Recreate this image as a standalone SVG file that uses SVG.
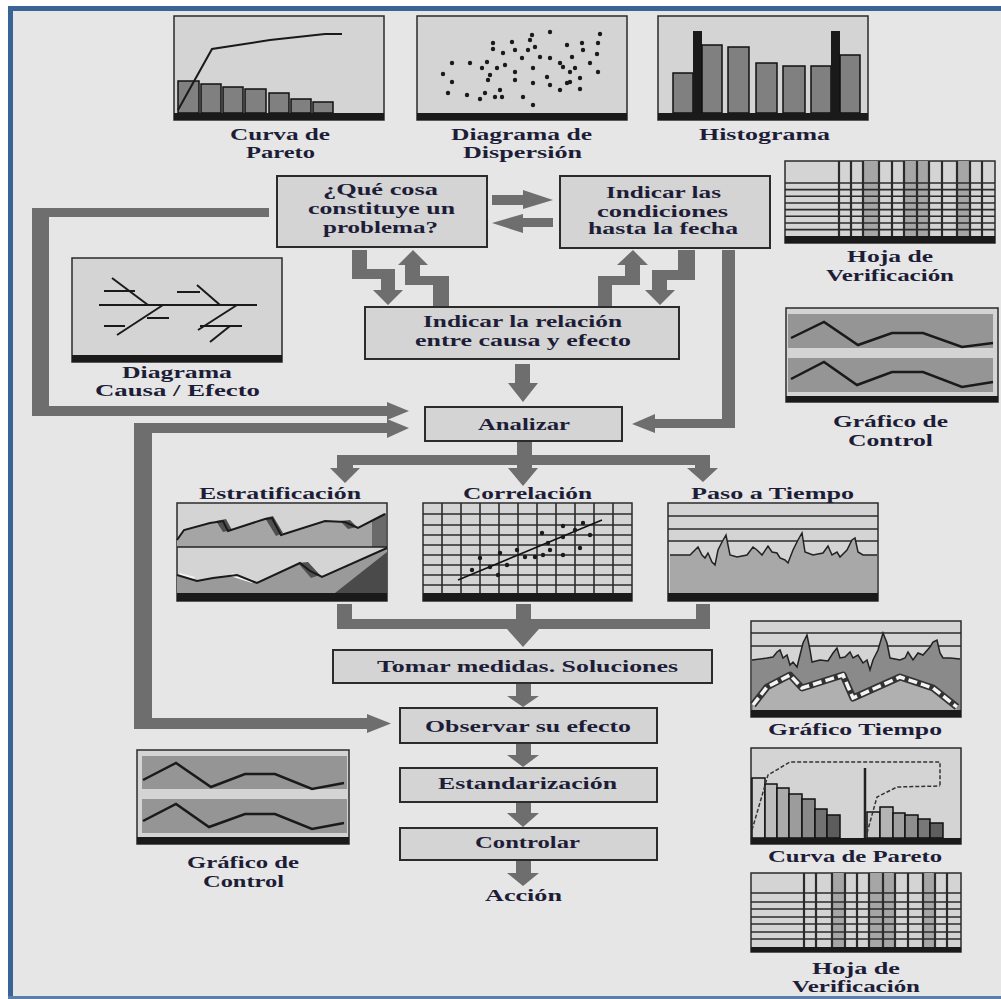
<svg xmlns="http://www.w3.org/2000/svg" width="1001" height="999" viewBox="0 0 1001 999">
<style>
.t{font-family:"Liberation Serif","Times New Roman",serif;font-weight:bold;font-size:17px;fill:#1d1d38;text-anchor:middle}
.box{fill:#d4d4d4;stroke:#2b2b2b;stroke-width:2}
.arr{fill:#6e6e6e}
.chart{fill:#d4d4d4;stroke:#2b2b2b;stroke-width:1.5}
.base{fill:#1a1a1a}
.ln{fill:none;stroke:#1a1a1a;stroke-width:2}
.gl{stroke:#2b2b2b;stroke-width:1.6}
.bar{fill:#808080;stroke:#111;stroke-width:1.5}
.band{fill:#959595}
.sh{fill:#a6a6a6}
</style>
<defs>
<circle id="dot" r="2.2" fill="#1a1a1a"/>
</defs>
<rect x="0" y="0" width="1001" height="999" fill="#ffffff"/>
<rect x="8" y="6" width="993" height="993" fill="#e6e6e6"/>
<rect x="8" y="6" width="5" height="993" fill="#3a6496"/>
<rect x="8" y="6" width="993" height="5" fill="#3a6496"/>
<rect x="8" y="996" width="993" height="3" fill="#5a7fa8"/>

<!-- connectors -->
<g id="connectors" class="arr">
<polygon points="492,195 523,195 523,190 553,200 523,209 523,205 492,205"/>
<polygon points="553,218 523,218 523,214 492,223 523,233 523,227 553,227"/>
<polygon points="352,250 367,250 367,269 395,269 395,290 403,290 388,305 373,290 381,290 381,279 352,279"/>
<polygon points="433,307 449,307 449,276 420,276 420,265 428,265 413,250 398,265 405,265 405,285 433,285"/>
<polygon points="598,307 612,307 612,285 640,285 640,265 648,265 633,250 617,265 625,265 625,276 598,276"/>
<polygon points="678,250 695,250 695,280 667,280 667,290 675,290 660,305 645,290 652,290 652,270 678,270"/>
<polygon points="515,364 530,364 530,383 538,383 523,402 508,383 515,383"/>
<polygon points="722,250 735,250 735,428 655,428 655,433 632,424 655,414 655,419 722,419"/>
<polygon points="269,208 269,217 49,217 49,406 387,406 387,402 409,411 387,420 387,416 32,416 32,208"/>
<polygon points="409,428 387,419 387,423 134,423 134,729 367,729 367,733 391,723.5 367,714 367,718 152,718 152,433 387,433 387,438"/>
<polygon points="337,455 517,455 517,441 532,441 532,455 710,455 710,468 718,468 703,482 687,468 695,468 695,465 532,465 532,468 538,468 523,486 508,468 517,468 517,465 353,465 353,468 360,468 345,483 330,468 337,468"/>
<polygon points="337,604 352,604 352,619 516,619 516,604 531,604 531,619 696,619 696,604 710,604 710,629 539,629 523,647 507,629 337,629"/>
<polygon points="516,683 531,683 531,696 539,696 523,707 507,696 516,696"/>
<polygon points="516,743 531,743 531,755 539,755 523,767 507,755 516,755"/>
<polygon points="516,802 531,802 531,813 539,813 523,827 507,813 516,813"/>
<polygon points="516,860 531,860 531,873 539,873 523,886 507,873 516,873"/>
</g>

<!-- process boxes -->
<g id="n-problema">
<rect class="box" x="277" y="176" width="210" height="71"/>
<text class="t" x="380.5" y="195" textLength="115" lengthAdjust="spacingAndGlyphs">¿Qué cosa</text>
<text class="t" x="381.5" y="214" textLength="147" lengthAdjust="spacingAndGlyphs">constituye un</text>
<text class="t" x="380.5" y="233" textLength="115" lengthAdjust="spacingAndGlyphs">problema?</text>
</g>
<g id="n-condiciones">
<rect class="box" x="560" y="176" width="210" height="72"/>
<text class="t" x="663.5" y="198" textLength="115" lengthAdjust="spacingAndGlyphs">Indicar las</text>
<text class="t" x="662.5" y="217" textLength="131" lengthAdjust="spacingAndGlyphs">condiciones</text>
<text class="t" x="663" y="234" textLength="150" lengthAdjust="spacingAndGlyphs">hasta la fecha</text>
</g>
<g id="n-relacion">
<rect class="box" x="365" y="307" width="314" height="52"/>
<text class="t" x="522.5" y="327" textLength="199" lengthAdjust="spacingAndGlyphs">Indicar la relación</text>
<text class="t" x="523" y="346" textLength="216" lengthAdjust="spacingAndGlyphs">entre causa y efecto</text>
</g>
<g id="n-analizar">
<rect class="box" x="425" y="407" width="197" height="34"/>
<text class="t" x="524" y="430" textLength="92" lengthAdjust="spacingAndGlyphs">Analizar</text>
</g>
<g id="n-tomar">
<rect class="box" x="333" y="650" width="379" height="33"/>
<text class="t" x="527.5" y="672" textLength="301" lengthAdjust="spacingAndGlyphs">Tomar medidas. Soluciones</text>
</g>
<g id="n-observar">
<rect class="box" x="400" y="708" width="257" height="35"/>
<text class="t" x="528" y="732" textLength="206" lengthAdjust="spacingAndGlyphs">Observar su efecto</text>
</g>
<g id="n-estandarizacion">
<rect class="box" x="400" y="768" width="257" height="34"/>
<text class="t" x="527.5" y="789" textLength="179" lengthAdjust="spacingAndGlyphs">Estandarización</text>
</g>
<g id="n-controlar">
<rect class="box" x="400" y="828" width="257" height="32"/>
<text class="t" x="527.5" y="848" textLength="105" lengthAdjust="spacingAndGlyphs">Controlar</text>
</g>
<g id="n-accion">
<text class="t" x="523.5" y="901" textLength="77" lengthAdjust="spacingAndGlyphs">Acción</text>
</g>

<!-- top Pareto -->
<g id="c-pareto-top">
<rect class="chart" x="174" y="16" width="210" height="104"/>
<rect class="bar" x="178" y="81" width="21" height="32"/>
<rect class="bar" x="201" y="84" width="20" height="29"/>
<rect class="bar" x="223" y="87" width="20" height="26"/>
<rect class="bar" x="245" y="89" width="21" height="24"/>
<rect class="bar" x="269" y="93" width="20" height="20"/>
<rect class="bar" x="291" y="99" width="20" height="14"/>
<rect class="bar" x="313" y="102" width="20" height="11"/>
<rect class="base" x="174" y="113" width="210" height="7"/>
<polyline class="ln" points="178,110 212,49 270,40 325,34 342,34"/>
<text class="t" x="280" y="140" textLength="100" lengthAdjust="spacingAndGlyphs">Curva de</text>
<text class="t" x="280.5" y="158" textLength="69" lengthAdjust="spacingAndGlyphs">Pareto</text>
</g>

<!-- scatter -->
<g id="c-dispersion">
<rect class="chart" x="417" y="16" width="210" height="104"/>
<rect class="base" x="417" y="113" width="210" height="7"/>
<g>
<use href="#dot" x="493" y="43"/><use href="#dot" x="493" y="49"/><use href="#dot" x="452" y="63"/><use href="#dot" x="470" y="63"/><use href="#dot" x="487" y="62"/><use href="#dot" x="482" y="68"/><use href="#dot" x="497" y="68"/><use href="#dot" x="443" y="74"/><use href="#dot" x="490" y="75"/><use href="#dot" x="452" y="82"/><use href="#dot" x="488" y="80"/><use href="#dot" x="448" y="93"/><use href="#dot" x="467" y="95"/><use href="#dot" x="485" y="93"/><use href="#dot" x="480" y="99"/><use href="#dot" x="495" y="97"/>
<use href="#dot" x="550" y="32"/><use href="#dot" x="532" y="35"/><use href="#dot" x="530" y="40"/><use href="#dot" x="512" y="42"/><use href="#dot" x="535" y="47"/><use href="#dot" x="600" y="34"/><use href="#dot" x="598" y="43"/><use href="#dot" x="582" y="43"/><use href="#dot" x="567" y="45"/><use href="#dot" x="583" y="50"/><use href="#dot" x="515" y="50"/><use href="#dot" x="528" y="50"/><use href="#dot" x="503" y="53"/><use href="#dot" x="522" y="58"/><use href="#dot" x="540" y="57"/><use href="#dot" x="550" y="58"/><use href="#dot" x="572" y="57"/><use href="#dot" x="597" y="54"/><use href="#dot" x="560" y="63"/><use href="#dot" x="590" y="63"/><use href="#dot" x="505" y="65"/><use href="#dot" x="533" y="68"/><use href="#dot" x="563" y="67"/><use href="#dot" x="575" y="68"/><use href="#dot" x="570" y="72"/><use href="#dot" x="598" y="72"/><use href="#dot" x="515" y="72"/><use href="#dot" x="547" y="77"/><use href="#dot" x="580" y="78"/><use href="#dot" x="515" y="80"/><use href="#dot" x="533" y="83"/><use href="#dot" x="550" y="85"/><use href="#dot" x="567" y="83"/><use href="#dot" x="560" y="90"/><use href="#dot" x="580" y="89"/><use href="#dot" x="570" y="82"/><use href="#dot" x="500" y="90"/><use href="#dot" x="523" y="97"/><use href="#dot" x="533" y="105"/><use href="#dot" x="502" y="97"/>
</g>
<text class="t" x="521.5" y="140" textLength="141" lengthAdjust="spacingAndGlyphs">Diagrama de</text>
<text class="t" x="522.5" y="158" textLength="119" lengthAdjust="spacingAndGlyphs">Dispersión</text>
</g>

<!-- histogram -->
<g id="c-histograma">
<rect class="chart" x="658" y="16" width="210" height="104"/>
<rect class="bar" x="673" y="73" width="20" height="40"/>
<rect x="693" y="31" width="9" height="82" fill="#1a1a1a"/>
<rect class="bar" x="702" y="45" width="20" height="68"/>
<rect class="bar" x="728" y="47" width="21" height="66"/>
<rect class="bar" x="756" y="63" width="21" height="50"/>
<rect class="bar" x="783" y="66" width="22" height="47"/>
<rect class="bar" x="811" y="66" width="20" height="47"/>
<rect x="831" y="31" width="9" height="82" fill="#1a1a1a"/>
<rect class="bar" x="840" y="55" width="20" height="58"/>
<rect class="base" x="658" y="113" width="210" height="7"/>
<text class="t" x="764.5" y="140" textLength="131" lengthAdjust="spacingAndGlyphs">Histograma</text>
</g>

<!-- Hoja de verificacion top -->
<g id="c-hoja-top">
<rect class="chart" x="785" y="161" width="210" height="82"/>
<rect class="sh" x="863" y="161" width="16" height="75"/>
<rect class="sh" x="904" y="161" width="25" height="75"/>
<rect class="sh" x="957" y="161" width="13" height="75"/>
<g class="gl">
<line x1="785" y1="183" x2="995" y2="183"/><line x1="785" y1="189.6" x2="995" y2="189.6"/><line x1="785" y1="196.3" x2="995" y2="196.3"/><line x1="785" y1="203" x2="995" y2="203"/><line x1="785" y1="209.6" x2="995" y2="209.6"/><line x1="785" y1="216.3" x2="995" y2="216.3"/><line x1="785" y1="223" x2="995" y2="223"/><line x1="785" y1="229.6" x2="995" y2="229.6"/>
</g>
<g class="gl" style="stroke-width:2.2">
<line x1="839" y1="161" x2="839" y2="236"/><line x1="851" y1="161" x2="851" y2="236"/><line x1="863" y1="161" x2="863" y2="236"/><line x1="879" y1="161" x2="879" y2="236"/><line x1="892" y1="161" x2="892" y2="236"/><line x1="904" y1="161" x2="904" y2="236"/><line x1="917" y1="161" x2="917" y2="236"/><line x1="929" y1="161" x2="929" y2="236"/><line x1="942" y1="161" x2="942" y2="236"/><line x1="957" y1="161" x2="957" y2="236"/><line x1="970" y1="161" x2="970" y2="236"/><line x1="982" y1="161" x2="982" y2="236"/>
</g>
<rect class="base" x="785" y="236" width="210" height="7"/>
<text class="t" x="890" y="262" textLength="86" lengthAdjust="spacingAndGlyphs">Hoja de</text>
<text class="t" x="890" y="281" textLength="128" lengthAdjust="spacingAndGlyphs">Verificación</text>
</g>

<!-- Grafico de control right -->
<g id="c-control-right">
<rect class="chart" x="786" y="308" width="212" height="94"/>
<rect class="band" x="788" y="314" width="205" height="34"/>
<rect class="band" x="788" y="358" width="205" height="34"/>
<rect class="base" x="786" y="396" width="212" height="6"/>
<polyline class="ln" style="stroke-width:2.5" points="791,338 824,322 858,345 892,333 923,333 962,347 993,343"/>
<polyline class="ln" style="stroke-width:2.5" points="791,379 824,362 857,385 892,372 923,372 962,387 993,382"/>
<text class="t" x="890.5" y="427" textLength="115" lengthAdjust="spacingAndGlyphs">Gráfico de</text>
<text class="t" x="890.5" y="446" textLength="85" lengthAdjust="spacingAndGlyphs">Control</text>
</g>

<!-- Cause effect -->
<g id="c-causa-efecto">
<rect class="chart" x="72" y="258" width="210" height="104"/>
<rect class="base" x="72" y="355" width="210" height="7"/>
<g class="ln">
<line x1="99" y1="305" x2="257" y2="305"/>
<line x1="112" y1="278" x2="148" y2="305"/>
<line x1="104" y1="291" x2="135" y2="291"/>
<line x1="163" y1="305" x2="117" y2="335"/>
<line x1="147" y1="318" x2="169" y2="318"/>
<line x1="104" y1="326" x2="125" y2="326"/>
<line x1="177" y1="292" x2="200" y2="292"/>
<line x1="197" y1="285" x2="220" y2="305"/>
<line x1="237" y1="305" x2="198" y2="330"/>
<line x1="200" y1="326" x2="242" y2="326"/>
<line x1="230" y1="326" x2="210" y2="342"/>
</g>
<text class="t" x="177" y="378" textLength="110" lengthAdjust="spacingAndGlyphs">Diagrama</text>
<text class="t" x="177.5" y="396" textLength="165" lengthAdjust="spacingAndGlyphs">Causa / Efecto</text>
</g>

<!-- Estratificacion -->
<g id="c-estratificacion">
<rect class="chart" x="177" y="503" width="210" height="98"/>
<polygon fill="#a5a5a5" points="177,547 177,540 184,530 210,523 223,521 228,531 265,519 272,518 281,535 325,521 345,522 358,528 385,514 385,547"/>
<polygon fill="#6a6a6a" points="372,520 386,513 386,547 372,547"/>
<polygon fill="#4f4f4f" points="216,521 226,519 232,530 223,532"/>
<polygon fill="#4f4f4f" points="265,518 273,516 283,533 276,536"/>
<polygon fill="#4f4f4f" points="340,521 350,520 357,527 348,529"/>
<polyline class="ln" points="177,540 184,530 210,523 223,521 228,531 265,519 272,518 281,535 325,521 345,522 358,528 385,514"/>
<line x1="177" y1="547" x2="387" y2="547" stroke="#222" stroke-width="1.5"/>
<polygon fill="#9a9a9a" points="177,593 177,575 197,581 213,578 237,575 257,583 300,563 310,571 322,577 387,548 387,593"/>
<polygon fill="#4a4a4a" points="335,593 387,552 387,593"/>
<polygon fill="#505050" points="298,563 308,562 320,575 311,578"/>
<polygon fill="#f2f2f2" points="180,573 195,577 193,580 178,576"/>
<polygon fill="#f2f2f2" points="232,573 254,580 252,583 230,576"/>
<polyline class="ln" points="177,575 197,581 213,578 237,575 257,583 300,563 310,571 322,577 387,548"/>
<rect class="base" x="177" y="593" width="210" height="8"/>
<text class="t" x="280" y="499" textLength="162" lengthAdjust="spacingAndGlyphs">Estratificación</text>
</g>

<!-- Correlacion -->
<g id="c-correlacion">
<rect class="chart" x="423" y="503" width="209" height="98"/>
<g class="gl">
<line x1="423" y1="514" x2="632" y2="514"/><line x1="423" y1="525" x2="632" y2="525"/><line x1="423" y1="535" x2="632" y2="535"/><line x1="423" y1="545" x2="632" y2="545"/><line x1="423" y1="555" x2="632" y2="555"/><line x1="423" y1="565" x2="632" y2="565"/><line x1="423" y1="575" x2="632" y2="575"/><line x1="423" y1="585" x2="632" y2="585"/>
<line x1="442" y1="503" x2="442" y2="593"/><line x1="461" y1="503" x2="461" y2="593"/><line x1="480" y1="503" x2="480" y2="593"/><line x1="499" y1="503" x2="499" y2="593"/><line x1="518" y1="503" x2="518" y2="593"/><line x1="537" y1="503" x2="537" y2="593"/><line x1="556" y1="503" x2="556" y2="593"/><line x1="575" y1="503" x2="575" y2="593"/><line x1="594" y1="503" x2="594" y2="593"/><line x1="613" y1="503" x2="613" y2="593"/>
</g>
<line x1="458" y1="580" x2="602" y2="520" stroke="#111" stroke-width="1.5"/>
<g>
<use href="#dot" x="472" y="570"/><use href="#dot" x="480" y="558"/><use href="#dot" x="490" y="567"/><use href="#dot" x="498" y="575"/><use href="#dot" x="500" y="553"/><use href="#dot" x="507" y="565"/><use href="#dot" x="517" y="550"/><use href="#dot" x="525" y="557"/><use href="#dot" x="535" y="557"/><use href="#dot" x="543" y="555"/><use href="#dot" x="542" y="533"/><use href="#dot" x="548" y="543"/><use href="#dot" x="550" y="550"/><use href="#dot" x="563" y="555"/><use href="#dot" x="563" y="537"/><use href="#dot" x="563" y="526"/><use href="#dot" x="575" y="530"/><use href="#dot" x="580" y="548"/><use href="#dot" x="583" y="523"/><use href="#dot" x="590" y="535"/>
</g>
<rect class="base" x="423" y="593" width="209" height="8"/>
<text class="t" x="527.5" y="499" textLength="129" lengthAdjust="spacingAndGlyphs">Correlación</text>
</g>

<!-- Paso a tiempo -->
<g id="c-paso-tiempo">
<rect class="chart" x="668" y="503" width="210" height="98"/>
<g class="gl"><line x1="668" y1="516" x2="878" y2="516"/><line x1="668" y1="529" x2="878" y2="529"/><line x1="668" y1="541" x2="878" y2="541"/></g>
<polygon fill="#a8a8a8" points="670,593 670,555 690,555 695,550 698,547 702,555 705,558 708,553 712,562 715,565 718,550 722,542 726,535 730,555 737,557 747,555 753,547 757,550 762,555 768,546 772,552 777,553 780,558 785,560 788,563 793,550 798,540 802,533 805,552 813,555 823,553 828,546 832,555 837,552 840,557 847,550 852,540 855,538 858,552 863,555 877,555 877,593"/>
<polyline fill="none" stroke="#222" stroke-width="1.5" points="670,555 690,555 695,550 698,547 702,555 705,558 708,553 712,562 715,565 718,550 722,542 726,535 730,555 737,557 747,555 753,547 757,550 762,555 768,546 772,552 777,553 780,558 785,560 788,563 793,550 798,540 802,533 805,552 813,555 823,553 828,546 832,555 837,552 840,557 847,550 852,540 855,538 858,552 863,555 877,555"/>
<rect class="base" x="668" y="593" width="210" height="8"/>
<text class="t" x="772.5" y="499" textLength="163" lengthAdjust="spacingAndGlyphs">Paso a Tiempo</text>
</g>

<!-- Grafico de control bottom-left -->
<g id="c-control-left">
<rect class="chart" x="137" y="750" width="212" height="94"/>
<rect class="band" x="142" y="756" width="205" height="33"/>
<rect class="band" x="142" y="799" width="205" height="34"/>
<rect class="base" x="137" y="837" width="212" height="7"/>
<polyline class="ln" style="stroke-width:2.5" points="143,780 176,763 211,787 245,774 275,774 312,789 344,783"/>
<polyline class="ln" style="stroke-width:2.5" points="143,821 176,804 209,827 245,814 275,814 312,829 344,823"/>
<text class="t" x="243" y="868" textLength="112" lengthAdjust="spacingAndGlyphs">Gráfico de</text>
<text class="t" x="243.5" y="887" textLength="81" lengthAdjust="spacingAndGlyphs">Control</text>
</g>

<!-- Grafico tiempo -->
<g id="c-grafico-tiempo">
<rect class="chart" x="751" y="621" width="210" height="96"/>
<g class="gl"><line x1="751" y1="633" x2="961" y2="633"/><line x1="751" y1="646" x2="961" y2="646"/></g>
<polygon fill="#8a8a8a" points="752,710 752,660 767,658 773,657 777,652 780,650 783,658 787,655 790,665 793,662 797,667 800,655 803,643 807,635 810,650 812,662 820,660 828,661 833,653 837,648 840,658 845,657 850,652 853,658 858,655 863,663 867,660 870,670 873,660 878,650 883,633 887,643 890,658 900,660 905,658 908,652 913,660 918,653 923,655 930,647 933,642 937,640 940,653 943,658 950,658 960,659 960,710"/>
<polyline fill="none" stroke="#222" stroke-width="1.5" points="752,660 767,658 773,657 777,652 780,650 783,658 787,655 790,665 793,662 797,667 800,655 803,643 807,635 810,650 812,662 820,660 828,661 833,653 837,648 840,658 845,657 850,652 853,658 858,655 863,663 867,660 870,670 873,660 878,650 883,633 887,643 890,658 900,660 905,658 908,652 913,660 918,653 923,655 930,647 933,642 937,640 940,653 943,658 950,658 960,659"/>
<polygon fill="#b0b0b0" points="753,710 753,705 767,687 790,675 802,688 843,675 853,698 900,677 933,688 957,707 957,710"/>
<polyline fill="none" stroke="#333" stroke-width="7" stroke-linejoin="round" points="753,705 767,687 790,675 802,688 843,675 853,698 900,677 933,688 957,707"/>
<polyline fill="none" stroke="#f4f4f4" stroke-width="3.5" stroke-dasharray="9 4" points="753,705 767,687 790,675 802,688 843,675 853,698 900,677 933,688 957,707"/>
<rect class="base" x="751" y="710" width="210" height="7"/>
<text class="t" x="855" y="735" textLength="174" lengthAdjust="spacingAndGlyphs">Gráfico Tiempo</text>
</g>

<!-- Curva de Pareto bottom -->
<g id="c-pareto-bottom">
<rect class="chart" x="751" y="748" width="210" height="96"/>
<g stroke="#111" stroke-width="1.5">
<rect x="752" y="778" width="13" height="60" fill="#d0d0d0"/>
<rect x="765" y="784" width="12" height="54" fill="#bdbdbd"/>
<rect x="777" y="788" width="12" height="50" fill="#ababab"/>
<rect x="789" y="794" width="13" height="44" fill="#9c9c9c"/>
<rect x="802" y="799" width="13" height="39" fill="#8a8a8a"/>
<rect x="815" y="809" width="12" height="29" fill="#727272"/>
<rect x="827" y="815" width="13" height="23" fill="#5c5c5c"/>
<rect x="867" y="812" width="13" height="26" fill="#c8c8c8"/>
<rect x="880" y="807" width="13" height="31" fill="#b4b4b4"/>
<rect x="893" y="813" width="12" height="25" fill="#a0a0a0"/>
<rect x="905" y="815" width="13" height="23" fill="#8e8e8e"/>
<rect x="918" y="819" width="12" height="19" fill="#787878"/>
<rect x="930" y="823" width="13" height="15" fill="#5e5e5e"/>
</g>
<line x1="865" y1="768" x2="865" y2="838" stroke="#222" stroke-width="2.5"/>
<polyline fill="none" stroke="#333" stroke-width="1.5" stroke-dasharray="4 2" points="752,830 768,775 790,762 940,762 940,786"/>
<polyline fill="none" stroke="#333" stroke-width="1.5" stroke-dasharray="4 2" points="867,833 877,797 897,787 940,786"/>
<rect class="base" x="751" y="838" width="210" height="6"/>
<text class="t" x="855" y="862" textLength="174" lengthAdjust="spacingAndGlyphs">Curva de Pareto</text>
</g>

<!-- Hoja de verificacion bottom -->
<g id="c-hoja-bottom">
<rect class="chart" x="751" y="873" width="210" height="79"/>
<rect class="sh" x="832" y="873" width="13" height="74"/>
<rect class="sh" x="869" y="873" width="26" height="74"/>
<rect class="sh" x="923" y="873" width="12" height="74"/>
<g class="gl">
<line x1="751" y1="893" x2="961" y2="893"/><line x1="751" y1="902" x2="961" y2="902"/><line x1="751" y1="909" x2="961" y2="909"/><line x1="751" y1="917" x2="961" y2="917"/><line x1="751" y1="924" x2="961" y2="924"/><line x1="751" y1="932" x2="961" y2="932"/><line x1="751" y1="939" x2="961" y2="939"/>
</g>
<g class="gl" style="stroke-width:2.2">
<line x1="804" y1="873" x2="804" y2="947"/><line x1="816" y1="873" x2="816" y2="947"/><line x1="832" y1="873" x2="832" y2="947"/><line x1="845" y1="873" x2="845" y2="947"/><line x1="857" y1="873" x2="857" y2="947"/><line x1="869" y1="873" x2="869" y2="947"/><line x1="883" y1="873" x2="883" y2="947"/><line x1="895" y1="873" x2="895" y2="947"/><line x1="908" y1="873" x2="908" y2="947"/><line x1="923" y1="873" x2="923" y2="947"/><line x1="935" y1="873" x2="935" y2="947"/><line x1="947" y1="873" x2="947" y2="947"/>
</g>
<rect class="base" x="751" y="947" width="210" height="5"/>
<text class="t" x="856" y="974" textLength="88" lengthAdjust="spacingAndGlyphs">Hoja de</text>
<text class="t" x="856" y="992" textLength="128" lengthAdjust="spacingAndGlyphs">Verificación</text>
</g>
</svg>
